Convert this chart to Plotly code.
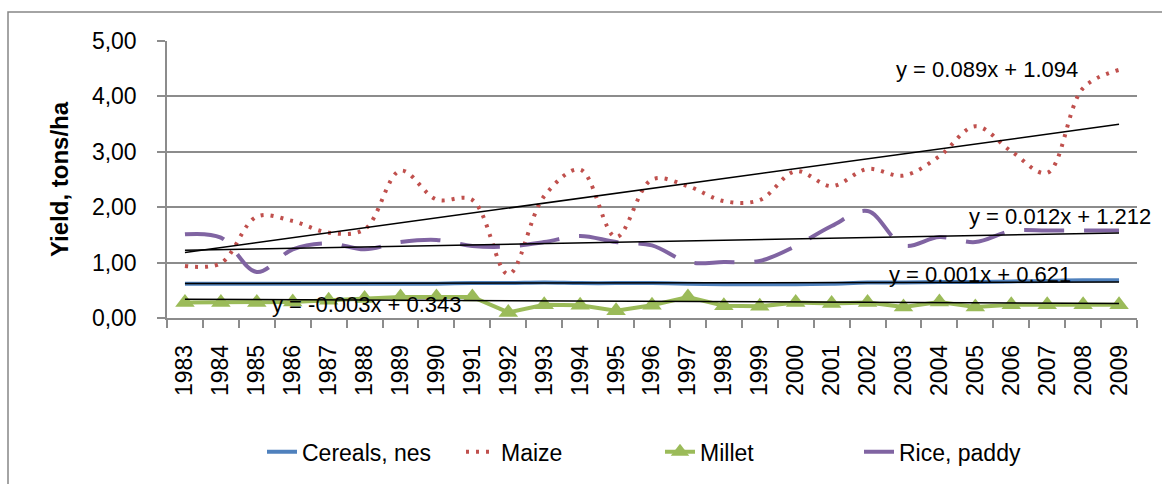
import plotly.graph_objects as go

years = [str(y) for y in range(1983, 2010)]

cereals_nes = [0.62, 0.62, 0.62, 0.62, 0.62, 0.62, 0.62, 0.62, 0.63, 0.63, 0.64, 0.63, 0.63,
               0.63, 0.62, 0.61, 0.61, 0.61, 0.62, 0.64, 0.64, 0.65, 0.65, 0.66, 0.67, 0.68, 0.68]
maize = [0.94, 0.99, 1.83, 1.75, 1.54, 1.60, 2.66, 2.14, 2.13, 0.79, 2.20, 2.68, 1.46,
         2.50, 2.38, 2.11, 2.13, 2.65, 2.38, 2.69, 2.57, 2.92, 3.46, 3.01, 2.62, 4.15, 4.48]
millet = [0.28, 0.28, 0.28, 0.29, 0.32, 0.35, 0.38, 0.38, 0.38, 0.10, 0.24, 0.23, 0.13,
          0.23, 0.38, 0.22, 0.21, 0.28, 0.26, 0.28, 0.20, 0.29, 0.20, 0.24, 0.24, 0.24, 0.24]
rice_paddy = [1.51, 1.45, 0.83, 1.24, 1.35, 1.24, 1.37, 1.41, 1.30, 1.29, 1.37, 1.48, 1.37,
              1.31, 1.01, 1.01, 1.03, 1.30, 1.66, 1.93, 1.31, 1.46, 1.37, 1.57, 1.58, 1.58, 1.58]

series_names = ["Cereals, nes", "Maize", "Millet", "Rice, paddy"]

# Linear trendlines (Excel, x = 1..27), coefficients as printed on the chart
trend_slopes = [0.001, 0.089, -0.003, 0.012]
trend_intercepts = [0.621, 1.094, 0.343, 1.212]
trend_labels = ["y = 0.001x + 0.621", "y = 0.089x + 1.094",
                "y = -0.003x + 0.343", "y = 0.012x + 1.212"]

y_tickvals = [0, 1, 2, 3, 4, 5]
y_ticktext = ["0,00", "1,00", "2,00", "3,00", "4,00", "5,00"]

FONT = "Liberation Sans"
GRID = "#8c8c8c"

fig = go.Figure()

fig.add_trace(go.Scatter(x=years, y=cereals_nes, name=series_names[0], mode="lines",
                         line=dict(color="#4F81BD", width=4, shape="spline")))
fig.add_trace(go.Scatter(x=years, y=maize, name=series_names[1], mode="lines",
                         line=dict(color="#C0504D", width=4, shape="spline", dash="3px,7px")))
fig.add_trace(go.Scatter(x=years, y=millet, name=series_names[2], mode="lines+markers",
                         line=dict(color="#9BBB59", width=4),
                         marker=dict(symbol="triangle-up", size=17, color="#9BBB59")))
fig.add_trace(go.Scatter(x=years, y=rice_paddy, name=series_names[3], mode="lines",
                         line=dict(color="#8064A2", width=4, shape="spline", dash="40px,20px")))

n = len(years)
for slope, icpt in zip(trend_slopes, trend_intercepts):
    fig.add_trace(go.Scatter(x=years, y=[slope * (i + 1) + icpt for i in range(n)],
                             mode="lines", showlegend=False, hoverinfo="skip",
                             line=dict(color="black", width=1.5)))

# equation labels (paper coords)
label_pos = [(0.838, 0.158), (0.845, 0.896), (0.206, 0.05), (0.921, 0.367)]
for txt, (px, py) in zip(trend_labels, label_pos):
    fig.add_annotation(text=txt, x=px, y=py, xref="paper", yref="paper",
                       showarrow=False, xanchor="center", yanchor="middle",
                       font=dict(family=FONT, size=22, color="black"))

# outer chart frame
fig.add_shape(type="rect", xref="paper", yref="paper",
              x0=(8 - 167) / 970, x1=1.2, y0=-0.8, y1=(319 - 12) / 278,
              line=dict(color="#868686", width=1.5), fillcolor="rgba(0,0,0,0)", layer="below")

fig.update_layout(
    width=1162, height=484,
    margin=dict(l=167, r=25, t=41, b=165, pad=0),
    paper_bgcolor="white", plot_bgcolor="white",
    font=dict(family=FONT, size=22, color="black"),
    showlegend=True,
    legend=dict(orientation="h", x=(262 - 167) / 970, xanchor="left", y=-0.478, yanchor="middle",
                font=dict(family=FONT, size=23, color="black"), bgcolor="rgba(0,0,0,0)",
                itemwidth=30, entrywidthmode="pixels", entrywidth=154),
    xaxis=dict(type="category", range=[-0.5, 26.5], autorange=False,
               tickangle=-90, ticks="outside", tickson="boundaries",
               ticklen=8, tickcolor=GRID, tickwidth=1.5, showline=True, linecolor=GRID,
               linewidth=1.5, showgrid=False, ticklabelstandoff=16,
               tickfont=dict(family=FONT, size=23, color="black")),
    yaxis=dict(range=[0, 5], autorange=False, tickvals=y_tickvals, ticktext=y_ticktext,
               ticks="outside",
               ticklen=8, tickcolor=GRID, tickwidth=1.5, showline=True, linecolor=GRID,
               linewidth=1.5, showgrid=True, gridcolor=GRID, gridwidth=1.5, zeroline=False,
               ticklabelstandoff=16,
               tickfont=dict(family=FONT, size=23, color="black"),
               title=dict(text="<b>Yield, tons/ha</b>", standoff=16,
                          font=dict(family=FONT, size=24, color="black"))),
)

fig.write_html("out.html", config={"displayModeBar": False},
               post_script="document.body.style.margin='0';")
